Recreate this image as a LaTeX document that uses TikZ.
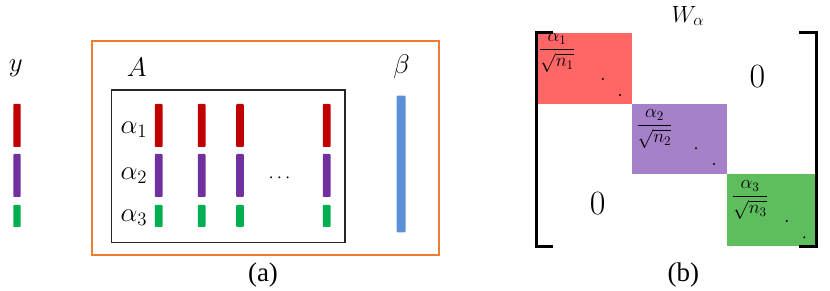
\RequirePackage{fix-cm}
\documentclass[tikz,border=0pt]{standalone}
\usepackage{amsmath}
\usepackage{fontspec}
\newfontfamily\capfont{Liberation Serif}
\usetikzlibrary{positioning, calc}
\definecolor{barRed}{HTML}{C00000}
\definecolor{barPurple}{HTML}{7030A0}
\definecolor{barGreen}{HTML}{00B050}
\definecolor{barBlue}{HTML}{5B8FD6}
\definecolor{boxOrange}{HTML}{ED7D31}
\definecolor{blkRed}{HTML}{FF6666}
\definecolor{blkPurple}{HTML}{A680C8}
\definecolor{blkGreen}{HTML}{5EBE5E}
\tikzset{
    vecBar/.style={rounded corners=0.8pt},
    mathLabel/.style={inner sep=0pt, font=\fontsize{23}{27}\selectfont},
    fracLabel/.style={inner sep=0pt, font=\fontsize{16}{19}\selectfont},
    zeroLabel/.style={inner sep=0pt, font=\fontsize{29}{33}\selectfont},
    capLabel/.style={inner sep=0pt, font=\capfont\fontsize{23}{27}\selectfont},
    brackLine/.style={line width=2.3pt, line cap=butt}
}

\begin{document}
\begin{tikzpicture}[x=0.03cm, y=-0.03cm]
        \useasboundingbox (0,0) rectangle (830,291);

        % --- Panel (a) ---
        % Frames
        \draw[boxOrange, line width=1.4pt] (91.7,41) rectangle (439.3,255);
        \draw[black!85, line width=1.2pt] (111.7,90) rectangle (345,242.3);

        % Bars: y vector and the columns of A
        \foreach \col/\ya/\yb in {barRed/104/147, barPurple/154/197, barGreen/205/227} {
            \fill[vecBar, \col] (13.3,\ya) rectangle (20.7,\yb);
            \foreach \x in {158.7, 201.7, 240, 326.7}
                \fill[vecBar, \col] (\x-3.9,\ya) rectangle (\x+3.9,\yb);
        }
        \fill[vecBar, barBlue] (396.7,95.7) rectangle (405.5,232.3);

        % Labels
        \node[mathLabel] (yLab) at (15.7,68) {$y$};
        \node[mathLabel] (aLab) at (136.7,67) {$A$};
        \node[mathLabel] (betaLab) at (401.5,67) {$\beta$};
        \node[mathLabel] (alphaOne) at (134,130) {$\alpha_1$};
        \node[mathLabel] (alphaTwo) at (134,176) {$\alpha_2$};
        \node[mathLabel] (alphaThree) at (134,218) {$\alpha_3$};
        \node[mathLabel, font=\fontsize{16}{19}\selectfont] (dotsLab) at (281,178) {$\cdots$};
        \node[capLabel] (capA) at (263,275) {(a)};

        % --- Panel (b) ---
        % Diagonal blocks
        \fill[blkRed] (538.3,33.3) rectangle (632.3,104);
        \fill[blkPurple] (632.3,104) rectangle (726.7,174);
        \fill[blkGreen] (726.7,174) rectangle (816,245.7);

        % Brackets
        \draw[brackLine] (553,32.3) -- (536.7,32.3) -- (536.7,246.7) -- (553,246.7);
        \draw[brackLine] (799.3,32.3) -- (816.7,32.3) -- (816.7,246.7) -- (799.3,246.7);

        % Block entries
        \node[fracLabel] (fracOne) at (557,53) {$\dfrac{\alpha_1}{\sqrt{n_1}}$};
        \node[fracLabel] (fracTwo) at (654.5,129) {$\dfrac{\alpha_2}{\sqrt{n_2}}$};
        \node[fracLabel] (fracThree) at (750,200) {$\dfrac{\alpha_3}{\sqrt{n_3}}$};
        \foreach \px/\py in {602.7/79, 620/95, 696/148.3, 714/164, 786.7/221, 804.3/237.3}
            \fill (\px,\py) circle (1.1);

        \node[zeroLabel] (zeroUp) at (757.3,76.7) {$0$};
        \node[zeroLabel] (zeroLow) at (597.7,203.3) {$0$};
        \node[mathLabel, font=\fontsize{20}{24}\selectfont] (wLab) at (688,16) {$W_\alpha$};
        \node[capLabel] (capB) at (683.3,275) {(b)};

    \end{tikzpicture}
\end{document}
